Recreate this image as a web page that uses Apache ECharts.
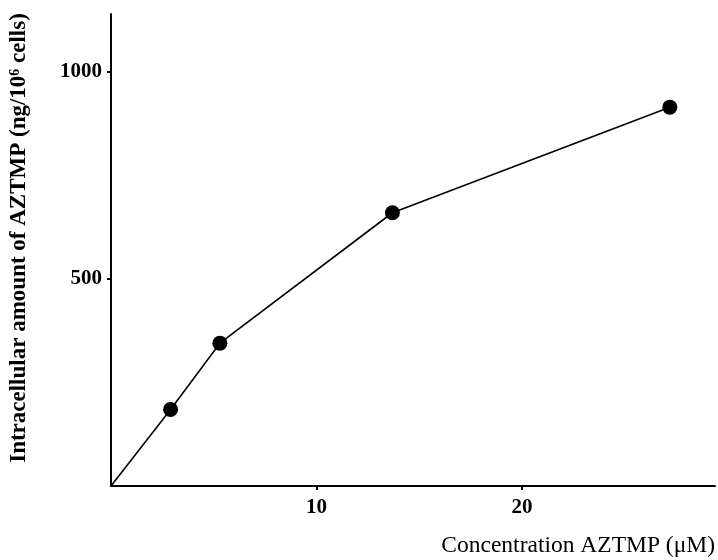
<!DOCTYPE html>
<html>
<head>
<meta charset="utf-8">
<script src="https://cdn.jsdelivr.net/npm/echarts@6/dist/echarts.min.js"></script>
<style>
html,body{margin:0;padding:0;background:#fff;}
#chart{width:718px;height:560px;}
</style>
</head>
<body>
<div id="chart"></div>
<script>
const concentration = [0, 2.9, 5.3, 13.7, 27.2];
const amount = [0, 185, 345, 660, 915];
const xTicks = [10, 20];
const yTicks = [500, 1000];
const xTitle = 'Concentration AZTMP (\u03bcM)';
const yTitle = 'Intracellular amount of AZTMP (ng/10\u2076 cells)';

const points = concentration.map((x, i) => [x, amount[i]]);
const serif = '"Liberation Serif", "DejaVu Serif", serif';

const chart = echarts.init(document.getElementById('chart'));
chart.setOption({
  backgroundColor: '#fff',
  animation: false,
  grid: { left: 107, right: 1, top: 14, bottom: 74, containLabel: false },
  xAxis: {
    type: 'value', min: 0, max: 29.4,
    name: xTitle, nameLocation: 'end', nameGap: 0,
    nameTextStyle: { fontFamily: serif, fontSize: 23.5, color: '#000', align: 'right', verticalAlign: 'top', padding: [48, 0, 0, 0] },
    axisLine: { show: true, onZero: false, lineStyle: { color: '#000', width: 2 } },
    axisTick: { show: true, length: 4, customValues: xTicks, lineStyle: { color: '#000', width: 2 } },
    axisLabel: { customValues: xTicks, margin: 11, fontFamily: serif, fontWeight: 'bold', fontSize: 21, color: '#000', formatter: v => String(v) },
    splitLine: { show: false }
  },
  yAxis: {
    type: 'value', min: 0, max: 1140,
    name: yTitle, nameLocation: 'middle', nameGap: 80,
    nameTextStyle: { fontFamily: serif, fontWeight: 'bold', fontSize: 23, color: '#000', padding: [0, 0, 0, 24] },
    axisLine: { show: true, onZero: false, lineStyle: { color: '#000', width: 2 } },
    axisTick: { show: true, length: 4, customValues: yTicks, lineStyle: { color: '#000', width: 2 } },
    axisLabel: { customValues: yTicks, margin: 9, fontFamily: serif, fontWeight: 'bold', fontSize: 21, color: '#000', formatter: v => String(v) },
    splitLine: { show: false }
  },
  series: [{
    type: 'line',
    data: points,
    symbol: 'circle',
    symbolSize: (v, p) => p.dataIndex === 0 ? 0 : 15,
    showAllSymbol: true,
    lineStyle: { color: '#000', width: 1.6 },
    itemStyle: { color: '#000' }
  }]
});
</script>
</body>
</html>
